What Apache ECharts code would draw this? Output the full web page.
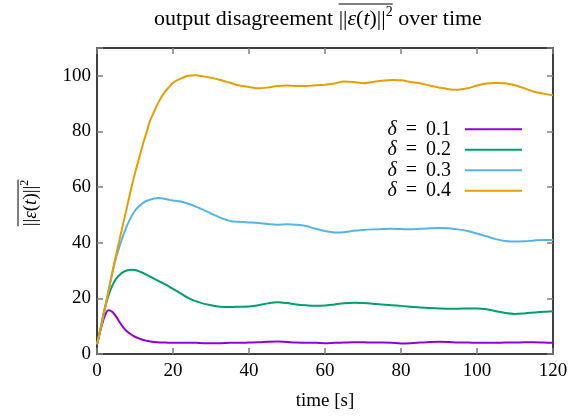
<!DOCTYPE html>
<html>
<head>
<meta charset="utf-8">
<script src="https://cdn.jsdelivr.net/npm/echarts@6/dist/echarts.min.js"></script>
<style>html,body{margin:0;padding:0;background:#fff}#c{width:583px;height:420px}</style>
</head>
<body>
<div id="c"></div>
<script>
// ---- data ----
const times = [0,1,2,3,4,5,6,7,8,9,10,11,12,13,14,15,16,17,18,19,20,22,24,26,28,30,32.5,35,37.5,40,42.5,45,47.5,50,52.5,55,57.5,60,62.5,65,67.5,70,72.5,75,77.5,80,82.5,85,87.5,90,92.5,95,97.5,100,102.5,105,107.5,110,112.5,115,117.5,120];
const delta01 = [3.5,9,13.5,15.7,15.2,13.5,11.3,9.4,8,7,6.2,5.6,5.1,4.8,4.5,4.3,4.2,4.1,4.1,4,4,4,4,4,3.9,3.9,3.9,4,4,4.1,4.2,4.4,4.5,4.3,4.1,4,4,3.9,4,4.1,4.2,4.2,4.1,4.1,4,3.8,3.9,4.1,4.3,4.4,4.3,4.1,4.1,4,4,4,4.1,4.1,4.2,4.2,4.1,4];
const delta02 = [3.5,9.5,16,21,24.5,27,28.5,29.5,30.1,30.3,30.2,29.8,29.2,28.5,27.8,27.1,26.4,25.7,25,24.2,23.4,21.8,20.2,19,18.1,17.5,17,16.9,17,17.1,17.5,18.2,18.6,18.3,17.8,17.5,17.3,17.4,17.8,18.2,18.4,18.3,18.1,17.8,17.5,17.3,17,16.7,16.5,16.4,16.3,16.3,16.4,16.4,16.1,15.4,14.7,14.4,14.6,14.9,15.2,15.4];
const delta03 = [3.5,9.5,16,22.5,29,34.5,39,43,46.5,49.3,51.5,53,54.2,55,55.5,55.9,56.1,56,55.7,55.4,55.2,54.8,54,53,51.8,50.5,49,47.8,47.5,47.3,47.1,46.7,46.5,46.6,46.5,46,45,44.2,43.7,43.8,44.3,44.6,44.8,44.9,45,44.9,44.8,45,45.2,45.3,45.2,44.8,44.2,43.3,42.3,41.3,40.6,40.4,40.5,40.8,41,41];
const delta04 = [3.5,9.5,16,22.5,29,35.5,41.5,47.5,53.5,59.5,65,70,75,79.5,84,87,90,92.5,94.5,96,97.5,99,100,100.2,99.8,99.3,98.5,97.5,96.5,96,95.5,95.8,96.3,96.5,96.3,96.3,96.6,96.8,97.2,98,97.8,97.3,97.8,98.2,98.5,98.4,97.8,97.3,96.5,95.8,95.2,95,95.5,96.5,97.2,97.4,97.3,96.6,95.5,94.3,93.6,93];
const seriesNames = ['δ = 0.1','δ = 0.2','δ = 0.3','δ = 0.4'];
const seriesValues = [delta01, delta02, delta03, delta04];
const colors = ['#9400d3','#009e73','#56b4e9','#e69f00'];
const xTicks = [0,20,40,60,80,100,120];
const yTicks = [0,20,40,60,80,100];

const FF = "'Liberation Serif', 'Times New Roman', serif";
const chart = echarts.init(document.getElementById('c'));

const mctx = document.createElement('canvas').getContext('2d');
function tw(text, size, italic){ mctx.font = (italic?'italic ':'') + size + 'px ' + FF; return mctx.measureText(text).width; }

function mathLabel(segs, cx, cy, rotation, overY){
  let total = 0; segs.forEach(s => { s.w = tw(s.t, s.size, s.it); total += s.w; });
  let x = -total/2; const children = []; let olStart = null, olEnd = null;
  segs.forEach(s => {
    if (s.ol && olStart === null) olStart = x;
    children.push({type:'text', x: x, y: s.dy||0, style:{text:s.t, font:(s.it?'italic ':'')+s.size+'px '+FF, fill:'#000', align:'left', verticalAlign:'middle'}});
    x += s.w;
    if (s.ol) olEnd = x;
  });
  if (olStart !== null) children.push({type:'line', shape:{x1:olStart, y1:overY, x2:olEnd, y2:overY}, style:{stroke:'#000', lineWidth:1}});
  return {type:'group', x: cx, y: cy, rotation: rotation, children: children};
}

const TS = 22;
const titleGraphic = mathLabel([
  {t:'output disagreement ', size:TS},
  {t:'||', size:TS, ol:true},
  {t:'ε', size:TS, it:true, ol:true},
  {t:'(', size:TS, ol:true},
  {t:'t', size:TS, it:true, ol:true},
  {t:')||', size:TS, ol:true},
  {t:'2', size:14, dy:-7, ol:true},
  {t:' over time', size:TS}
], 318, 19, 0, -15);

const yNameGraphic = mathLabel([
  {t:'||', size:19, ol:true},
  {t:'ε', size:19, it:true, ol:true},
  {t:'(', size:19, ol:true},
  {t:'t', size:19, it:true, ol:true},
  {t:')||', size:19, ol:true},
  {t:'2', size:12, dy:-6, ol:true}
], 31, 203, Math.PI/2, -13);

const tickStyle = {show:true, inside:true, length:6, lineStyle:{color:'#808080', width:1.5}};
const lineStyle = {show:true, onZero:false, lineStyle:{color:'#000', width:1.5}};
const labelFont = {fontFamily:FF, fontSize:19, color:'#000'};

chart.setOption({
  animation:false,
  backgroundColor:'#fff',
  grid:{left:97, right:30, top:48, bottom:66, containLabel:false},
  graphic:[titleGraphic, yNameGraphic],
  legend:{
    data: seriesNames, orient:'vertical', align:'right', right:56, top:114,
    itemWidth:57, itemHeight:2, itemGap:0, icon:'rect',
    formatter: n => '{i|δ}{e|=}' + n.slice(4),
    textStyle:{fontFamily:FF, fontSize:20, color:'#000', lineHeight:20.5, padding:[0,9,0,0],
      rich:{i:{fontStyle:'italic', fontFamily:FF, fontSize:20}, e:{fontFamily:FF, fontSize:20, padding:[0,9,0,9]}}}
  },
  xAxis:[
    {type:'value', min:0, max:120, interval:20, position:'bottom',
     name:'time [s]', nameLocation:'middle', nameGap:38, nameTextStyle:labelFont,
     axisLine:lineStyle, axisTick:tickStyle, splitLine:{show:false},
     axisLabel:Object.assign({margin:8, formatter: v => xTicks.includes(v) ? String(v) : ''}, labelFont)},
    {type:'value', min:0, max:120, interval:20, position:'top',
     axisLine:lineStyle, axisTick:tickStyle, splitLine:{show:false}, axisLabel:{show:false}}
  ],
  yAxis:[
    {type:'value', min:0, max:110, interval:20, position:'left',
     axisLine:lineStyle, axisTick:tickStyle, splitLine:{show:false},
     axisLabel:Object.assign({margin:6, formatter: v => yTicks.includes(v) ? String(v) : ''}, labelFont)},
    {type:'value', min:0, max:110, interval:20, position:'right',
     axisLine:lineStyle, axisTick:tickStyle, splitLine:{show:false}, axisLabel:{show:false}}
  ],
  series: seriesNames.map((n,i) => ({
    name:n, type:'line', xAxisIndex:0, yAxisIndex:0, showSymbol:false, symbol:'none',
    smooth:0.3, color:colors[i], lineStyle:{color:colors[i], width:2},
    data: times.map((t,k) => [t, seriesValues[i][k]])
  }))
});
</script>
</body>
</html>
